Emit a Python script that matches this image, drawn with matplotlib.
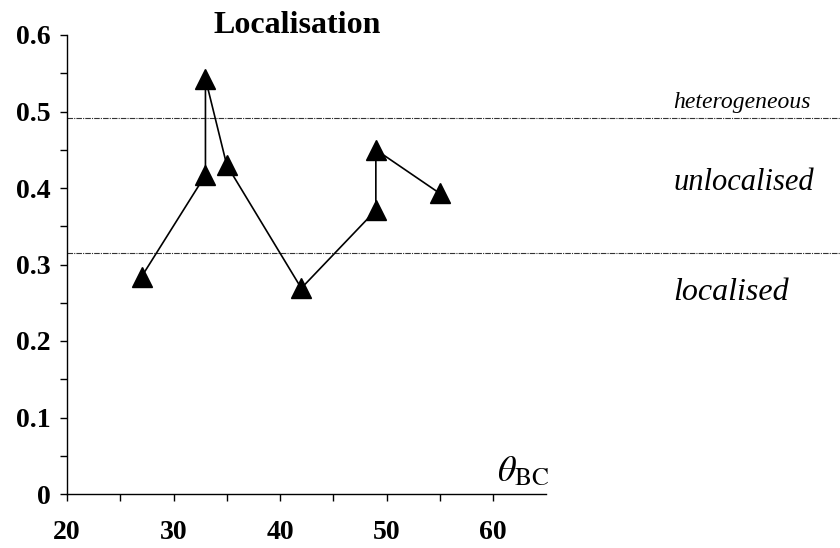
import matplotlib
matplotlib.use("Agg")
import matplotlib.pyplot as plt
from matplotlib.ticker import FixedLocator

theta_bc = [27, 33, 33, 35, 42, 49, 49, 55]
localisation = [0.284, 0.417, 0.543, 0.430, 0.269, 0.371, 0.450, 0.393]
thresholds = [0.491, 0.315]
region_labels = ["heterogeneous", "unlocalised", "localised"]
x_ticks = [20, 30, 40, 50, 60]
x_minor = [25, 35, 45, 55]
y_ticks = [0, 0.1, 0.2, 0.3, 0.4, 0.5, 0.6]
y_minor = [0.05, 0.15, 0.25, 0.35, 0.45, 0.55]
y_tick_labels = ["0", "0.1", "0.2", "0.3", "0.4", "0.5", "0.6"]

plt.rcParams['mathtext.fontset'] = 'stix'
serif = 'Liberation Serif'

fig = plt.figure(figsize=(8.4, 5.48), dpi=100)
ax = fig.add_axes([67/840, 1 - 494/548, 1 - 67/840, 494/548])
ax.set_xlim(20, 20 + 773/10.65)
ax.set_ylim(0, 494/765)

for t in thresholds:
    ax.axhline(t, color='#333333', lw=0.8, linestyle=(0, (5, 1, 1, 1)))

ax.plot(theta_bc, localisation, color='black', lw=1.2, marker='^',
        markersize=15, markerfacecolor='black', markeredgecolor='black')

for s in ['top', 'right']:
    ax.spines[s].set_visible(False)
ax.spines['left'].set_bounds(0, 0.6)
ax.spines['bottom'].set_bounds(20, 65)
ax.spines['left'].set_linewidth(1.0)
ax.spines['bottom'].set_linewidth(1.0)

ax.set_xticks(x_ticks)
ax.set_xticklabels([str(v) for v in x_ticks])
ax.xaxis.set_minor_locator(FixedLocator(x_minor))
ax.set_yticks(y_ticks)
ax.set_yticklabels(y_tick_labels)
ax.yaxis.set_minor_locator(FixedLocator(y_minor))
ax.tick_params(axis='both', which='both', direction='out', length=5, width=1)
ax.tick_params(axis='x', which='major', pad=14)
ax.tick_params(axis='y', which='major', pad=7)
for lab in ax.get_xticklabels() + ax.get_yticklabels():
    lab.set_fontfamily(serif)
    lab.set_fontweight('bold')
    lab.set_fontsize(20)

x_lab = 20 + (673 - 67) / 10.65
ax.text(x_lab, 0.505, region_labels[0], fontfamily=serif, style='italic',
        fontsize=17, ha='left', va='baseline')
ax.text(x_lab, (494 - 190) / 765, region_labels[1], fontfamily=serif, style='italic',
        fontsize=22, ha='left', va='baseline')
ax.text(x_lab, (494 - 300) / 765, region_labels[2], fontfamily=serif, style='italic',
        fontsize=23, ha='left', va='baseline')

ax.text(65.3, 0.008, r'$\theta_{\mathrm{BC}}$', fontsize=26, ha='right', va='bottom')

fig.text(297/840, 1 - 33/548, "Localisation", fontfamily=serif, fontweight='bold',
         fontsize=23, ha='center', va='baseline')

fig.savefig("out.png", dpi=100)
